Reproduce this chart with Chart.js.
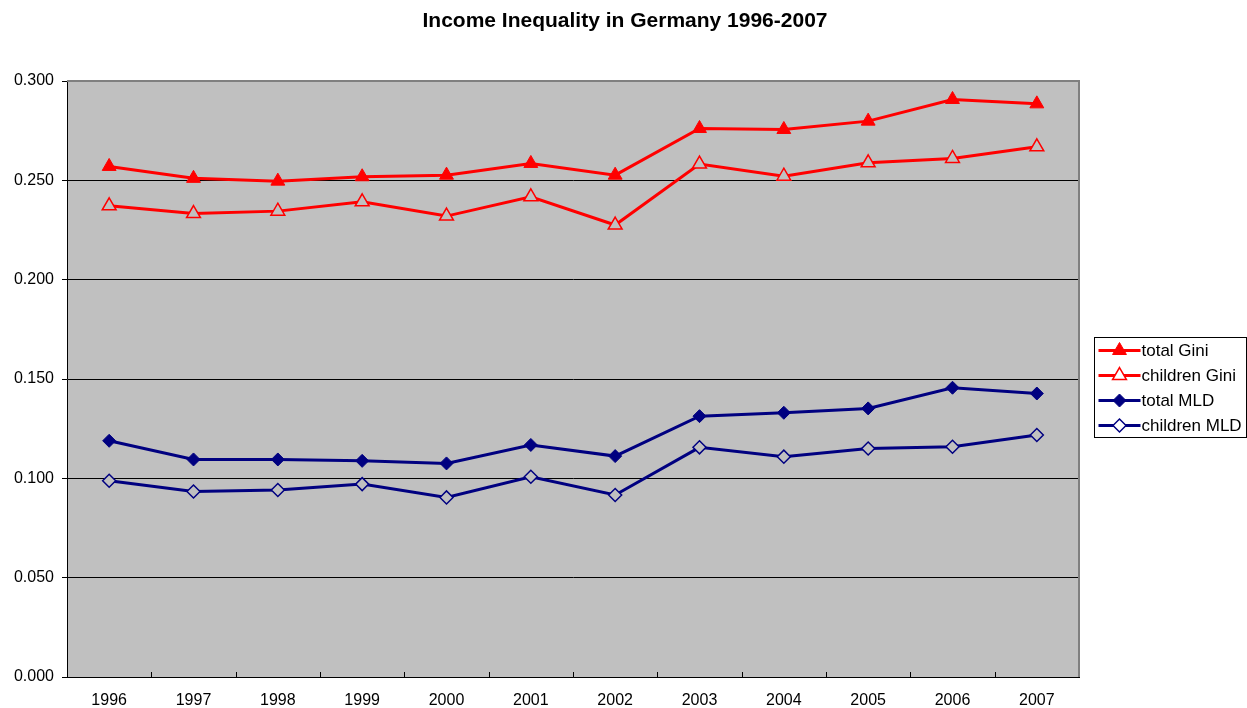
<!DOCTYPE html>
<html>
<head>
<meta charset="utf-8">
<script src="https://cdn.jsdelivr.net/npm/chart.js@4/dist/chart.umd.min.js"></script>
<style>
html,body{margin:0;padding:0;background:#fff;}
#wrap{width:1247px;height:708px;position:relative;}
</style>
</head>
<body>
<div id="wrap"><canvas id="c" width="1247" height="708"></canvas></div>
<script>
const titleText = "Income Inequality in Germany 1996-2007";
const years = ["1996","1997","1998","1999","2000","2001","2002","2003","2004","2005","2006","2007"];
const totalGini    = [0.257,0.251,0.2496,0.2518,0.2526,0.2585,0.2526,0.2761,0.2756,0.2798,0.2907,0.2885];
const childrenGini = [0.2372,0.2333,0.2345,0.2392,0.232,0.2417,0.2275,0.2582,0.2521,0.2588,0.261,0.2669];
const totalMLD     = [0.1189,0.1095,0.1095,0.1088,0.1075,0.1168,0.1112,0.1313,0.133,0.1352,0.1456,0.1427];
const childrenMLD  = [0.0988,0.0934,0.0941,0.0971,0.0904,0.1008,0.0916,0.1156,0.1109,0.115,0.1159,0.1218];
const seriesNames = ["total Gini","children Gini","total MLD","children MLD"];

const FONT = "'Liberation Sans', Arial, sans-serif";
const PLOT_BG = "#c0c0c0";

const bgPlugin = {
  id: 'bg',
  beforeDraw(chart) {
    const {ctx, chartArea: a} = chart;
    ctx.save();
    ctx.fillStyle = PLOT_BG;
    ctx.fillRect(a.left, a.top, a.right - a.left, a.bottom - a.top);
    ctx.restore();
  },
  beforeDatasetsDraw(chart) {
    const {ctx, chartArea: a} = chart;
    ctx.save();
    ctx.strokeStyle = "#808080";
    ctx.lineWidth = 2;
    ctx.beginPath();
    ctx.moveTo(a.left, a.top);
    ctx.lineTo(a.right, a.top);
    ctx.lineTo(a.right, a.bottom);
    ctx.stroke();
    const xs = chart.scales.x;
    ctx.strokeStyle = "#000";
    ctx.lineWidth = 1;
    ctx.beginPath();
    for (let i = 1; i < years.length; i++) {
      const x = Math.round((xs.getPixelForValue(i - 1) + xs.getPixelForValue(i)) / 2) + 0.5;
      ctx.moveTo(x, a.bottom);
      ctx.lineTo(x, a.bottom - 5);
    }
    ctx.stroke();
    ctx.restore();
  },
  afterDraw(chart) {
    const {ctx} = chart;
    ctx.save();
    ctx.fillStyle = "#000";
    ctx.font = "bold 21px " + FONT;
    ctx.textAlign = "center";
    ctx.textBaseline = "middle";
    ctx.fillText(titleText, 625, 21);
    const bx = 1094.5, by = 337.5, bw = 152, bh = 100;
    ctx.strokeStyle = "#000";
    ctx.lineWidth = 1;
    ctx.strokeRect(bx, by, bw, bh);
    ctx.font = "17px " + FONT;
    ctx.textAlign = "left";
    chart.data.datasets.forEach((ds, i) => {
      const y = by + 13 + i * 25;
      ctx.strokeStyle = ds.borderColor;
      ctx.lineWidth = 3;
      ctx.beginPath();
      ctx.moveTo(bx + 4, y);
      ctx.lineTo(bx + 46, y);
      ctx.stroke();
      ctx.fillStyle = ds.pointBackgroundColor === PLOT_BG ? "#ffffff" : ds.pointBackgroundColor;
      ctx.strokeStyle = ds.pointBorderColor;
      ctx.lineWidth = ds.pointBorderWidth;
      Chart.helpers.drawPoint(ctx, {
        pointStyle: ds.pointStyle,
        rotation: 0,
        radius: ds.pointRadius,
        borderWidth: ds.pointBorderWidth
      }, bx + 25, y);
      ctx.fillStyle = "#000";
      ctx.fillText(seriesNames[i], bx + 47, y + 1);
    });
    ctx.restore();
  }
};

function ds(label, data, color, style, filled, r) {
  return {
    label, data,
    borderColor: color,
    backgroundColor: color,
    borderWidth: 3,
    pointStyle: style,
    pointRadius: r,
    pointHoverRadius: r,
    pointBackgroundColor: filled ? color : PLOT_BG,
    pointBorderColor: color,
    pointBorderWidth: filled ? 1 : 1.5,
    tension: 0,
    fill: false
  };
}

new Chart(document.getElementById('c'), {
  type: 'line',
  data: {
    labels: years,
    datasets: [
      ds(seriesNames[0], totalGini, "#ff0000", "triangle", true, 8),
      ds(seriesNames[1], childrenGini, "#ff0000", "triangle", false, 8),
      ds(seriesNames[2], totalMLD, "#000080", "rectRot", true, 6.5),
      ds(seriesNames[3], childrenMLD, "#000080", "rectRot", false, 6.5)
    ]
  },
  options: {
    responsive: false,
    animation: false,
    devicePixelRatio: 1,
    layout: { padding: { top: 81, right: 168, bottom: 0, left: 0 } },
    plugins: { legend: { display: false }, title: { display: false }, tooltip: { enabled: false } },
    scales: {
      x: {
        type: 'category',
        offset: true,
        grid: { display: false },
        border: { display: true, color: "#000", width: 1 },
        ticks: { color: "#000", font: { family: FONT, size: 16 }, padding: 6, maxRotation: 0 },
        afterFit(scale) { scale.height = 31; }
      },
      y: {
        min: 0, max: 0.3,
        ticks: {
          stepSize: 0.05, color: "#000", padding: 8,
          font: { family: FONT, size: 16 },
          callback: v => Number(v).toFixed(3)
        },
        grid: { color: "#000", lineWidth: 1, tickLength: 5, drawTicks: true },
        border: { display: true, color: "#000", width: 1 },
        afterFit(scale) { scale.width = 67; }
      }
    }
  },
  plugins: [bgPlugin]
});
</script>
</body>
</html>
